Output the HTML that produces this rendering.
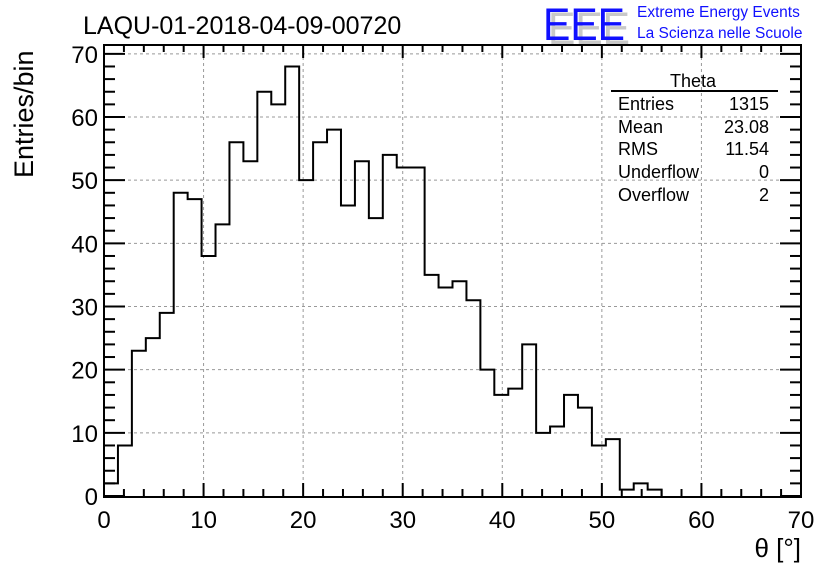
<!DOCTYPE html>
<html><head><meta charset="utf-8"><style>
body{margin:0;background:#fff;}
svg{display:block;font-family:"Liberation Sans",Arial,sans-serif;}
</style></head><body>
<svg id="chart" width="836" height="572" viewBox="0 0 836 572">
<rect width="836" height="572" fill="#fff"/>
<text x="83" y="34" font-size="25">LAQU-01-2018-04-09-00720</text>
<g>
<text x="548" y="44" font-size="48" fill="#c8c8c8" textLength="82" lengthAdjust="spacingAndGlyphs" transform="translate(548,44) scale(1,0.95) translate(-548,-44)">EEE</text>
<text x="543" y="40" font-size="48" fill="#1010ff" textLength="82" lengthAdjust="spacingAndGlyphs" transform="translate(543,40) scale(1,0.95) translate(-543,-40)">EEE</text>
<text x="637" y="17" font-size="15.5" fill="#1010ff">Extreme Energy Events</text>
<text x="637" y="38" font-size="15.5" fill="#1010ff">La Scienza nelle Scuole</text>
</g>
<g id="grid"></g>
<g id="ticks"></g>
<path id="hist" fill="none" stroke="#000" stroke-width="2"/>
<rect x="104" y="45" width="697" height="452" fill="none" stroke="#000" stroke-width="2"/>
<g id="labels" font-size="24"></g>
<text transform="translate(33,178) rotate(-90)" font-size="27">Entries/bin</text>
<text x="801" y="557" font-size="26" text-anchor="end">θ [°]</text>
<g font-size="18">
<text x="693" y="87" text-anchor="middle">Theta</text>
<line x1="611" y1="91" x2="778" y2="91" stroke="#000" stroke-width="2"/>
<text x="618" y="110">Entries</text><text x="769" y="110" text-anchor="end">1315</text>
<text x="618" y="133">Mean</text><text x="769" y="133" text-anchor="end">23.08</text>
<text x="618" y="155">RMS</text><text x="769" y="155" text-anchor="end">11.54</text>
<text x="618" y="178">Underflow</text><text x="769" y="178" text-anchor="end">0</text>
<text x="618" y="201">Overflow</text><text x="769" y="201" text-anchor="end">2</text>
</g>
</svg>
<script>
const binWidth = 1.4;
const counts = [2,8,23,25,29,48,47,38,43,56,53,64,62,68,50,56,58,46,53,44,54,52,52,35,33,34,31,20,16,17,24,10,11,16,14,8,9,1,2,1];
const xTickLabels = [0,10,20,30,40,50,60,70];
const yTickLabels = [0,10,20,30,40,50,60,70];
const X0=104,X1=801,Y0=496,Y1=45,XMAX=70,YMAX=71.4;
const sx=v=>X0+(X1-X0)*v/XMAX, sy=v=>Y0-(Y0-Y1)*v/YMAX;
const NS='http://www.w3.org/2000/svg';
function mk(t,a,p){const e=document.createElementNS(NS,t);for(const k in a)e.setAttribute(k,a[k]);p.appendChild(e);return e;}
const grid=document.getElementById('grid'),ticks=document.getElementById('ticks'),labels=document.getElementById('labels');
xTickLabels.forEach(v=>{
  const x=sx(v);
  if(v>0&&v<XMAX){const g=mk('line',{x1:x,x2:x,y1:Y1,y2:Y0,stroke:'#999','stroke-dasharray':'3,3'},grid);
  
  }
  const t=mk('text',{x:x,y:528,'text-anchor':'middle'},labels);t.textContent=v;
  
  
});
yTickLabels.forEach(v=>{
  const y=sy(v);
  if(v>0){const g=mk('line',{x1:X0,x2:X1,y1:y,y2:y,stroke:'#999','stroke-dasharray':'3,3'},grid);
  
  }
  const t=mk('text',{x:98,y:y+9,'text-anchor':'end'},labels);t.textContent=v;
  
  
});
for(let v=0;v<=XMAX;v+=2){const x=sx(v),L=(v%10===0)?13:7;
  mk('line',{x1:x,x2:x,y1:Y0,y2:Y0-L,stroke:'#000','stroke-width':2},ticks);
  mk('line',{x1:x,x2:x,y1:Y1,y2:Y1+L,stroke:'#000','stroke-width':2},ticks);}
for(let v=0;v<=YMAX;v+=2){const y=sy(v),L=(v%10===0)?21:11;
  mk('line',{x1:X0,x2:X0+L,y1:y,y2:y,stroke:'#000','stroke-width':2},ticks);
  mk('line',{x1:X1,x2:X1-L,y1:y,y2:y,stroke:'#000','stroke-width':2},ticks);}
let d='M'+sx(0)+','+sy(0);
counts.forEach((c,i)=>{d+=' L'+sx(i*binWidth)+','+sy(c)+' L'+sx((i+1)*binWidth)+','+sy(c);});
d+=' L'+sx(counts.length*binWidth)+','+sy(0);
document.getElementById('hist').setAttribute('d',d);
</script>
</body></html>
